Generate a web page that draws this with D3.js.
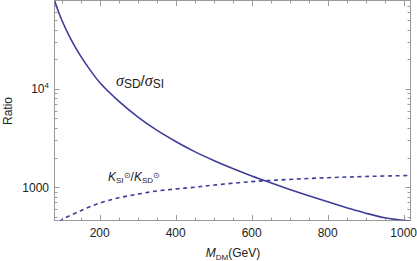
<!DOCTYPE html>
<html>
<head>
<meta charset="utf-8">
<script src="https://cdn.jsdelivr.net/npm/d3@7.9.0/dist/d3.min.js"></script>
<style>
  body { margin: 0; background: #fff; }
  svg { display: block; font-family: "Liberation Sans", Arial, sans-serif; }
</style>
</head>
<body>
<svg id="chart" width="417" height="261"></svg>
<script>
// sigma_SD / sigma_SI (solid)
const massSD = [81, 100, 125, 150, 175, 200, 250, 300, 350, 400, 450, 500, 550, 600, 650, 700, 750, 800, 850, 900, 950, 1018];
const ratioSD = [79000, 50000, 31500, 21500, 15500, 11600, 7500, 5190, 3800, 2920, 2300, 1870, 1550, 1303, 1110, 950, 820, 710, 620, 545, 490, 452];

// K_SI / K_SD (dashed)
const massK = [95, 100, 150, 200, 250, 300, 350, 400, 450, 500, 600, 700, 800, 900, 1018];
const ratioK = [445, 465, 578, 690, 780, 850, 915, 960, 1000, 1050, 1140, 1200, 1250, 1285, 1318];

const xMajor = [200, 400, 600, 800, 1000];
const yMajor = [1000, 10000];

const W = 417, H = 261;
const m = { left: 54.5, right: 6.5, top: 0.5, bottom: 40.5 };
const blue = '#3d3d99';
const frameColor = '#9a9a9a';

const svg = d3.select('#chart');

const x = d3.scaleLinear().domain([81, 1018]).range([m.left, W - m.right]);
const y = d3.scaleLog().domain([459, 79000]).range([H - m.bottom, m.top]);

// minor ticks
const xMinor = d3.range(100, 1001, 50).filter(v => !xMajor.includes(v));
const yMinor = [];
[100, 1000, 10000].forEach(dec => {
  for (let k = 2; k <= 9; k++) {
    const v = dec * k;
    if (v >= y.domain()[0] && v <= y.domain()[1]) yMinor.push(v);
  }
});

const x0 = m.left, x1 = W - m.right, y0 = m.top, y1 = H - m.bottom;

svg.append('clipPath').attr('id', 'clip')
  .append('rect').attr('x', x0).attr('y', y0).attr('width', x1 - x0).attr('height', y1 - y0);

const ticks = svg.append('g').attr('stroke', frameColor).attr('stroke-width', 1);

// bottom & top ticks
xMajor.concat(xMinor).forEach(v => {
  const len = xMajor.includes(v) ? 5.5 : 3;
  const px = Math.round(x(v)) + 0.5;
  ticks.append('line').attr('x1', px).attr('x2', px).attr('y1', y1).attr('y2', y1 - len);
  ticks.append('line').attr('x1', px).attr('x2', px).attr('y1', y0).attr('y2', y0 + len);
});
// left & right ticks
yMajor.concat(yMinor).forEach(v => {
  const len = yMajor.includes(v) ? 5 : 3;
  const py = Math.round(y(v)) + 0.5;
  ticks.append('line').attr('y1', py).attr('y2', py).attr('x1', x0).attr('x2', x0 + len);
  ticks.append('line').attr('y1', py).attr('y2', py).attr('x1', x1).attr('x2', x1 - len);
});

// frame
svg.append('rect')
  .attr('x', x0).attr('y', y0).attr('width', x1 - x0).attr('height', y1 - y0)
  .attr('fill', 'none').attr('stroke', frameColor).attr('stroke-width', 1);

// curves
const line = d3.line().x(d => x(d[0])).y(d => y(d[1])).curve(d3.curveCatmullRom);
const plot = svg.append('g').attr('clip-path', 'url(#clip)');

plot.append('path')
  .datum(d3.zip(massSD, ratioSD))
  .attr('d', line)
  .attr('fill', 'none').attr('stroke', blue).attr('stroke-width', 1.6);

plot.append('path')
  .datum(d3.zip(massK, ratioK))
  .attr('d', line)
  .attr('fill', 'none').attr('stroke', blue).attr('stroke-width', 1.6)
  .attr('stroke-dasharray', '4,3.6');

// tick labels
const lab = svg.append('g').attr('font-size', 12).attr('fill', '#222');
xMajor.forEach(v => {
  lab.append('text').attr('x', x(v)).attr('y', 237)
    .attr('text-anchor', 'middle').text(v);
});
lab.append('text').attr('x', 49).attr('y', y(1000) + 4.5)
  .attr('text-anchor', 'end').text('1000');
const t4 = lab.append('text').attr('x', 49).attr('y', y(10000) + 4.5).attr('text-anchor', 'end');
t4.append('tspan').text('10');
t4.append('tspan').attr('font-size', 8).attr('dy', -5).text('4');

// axis titles
svg.append('text')
  .attr('transform', `translate(12,111) rotate(-90)`)
  .attr('text-anchor', 'middle').attr('font-size', 12).attr('fill', '#222')
  .text('Ratio');

const xt = svg.append('text').attr('x', 233).attr('y', 257)
  .attr('text-anchor', 'middle').attr('font-size', 12).attr('fill', '#222');
xt.append('tspan').attr('font-style', 'italic').text('M');
xt.append('tspan').attr('font-size', 8).attr('dy', 3).text('DM');
xt.append('tspan').attr('dy', -3).text('(GeV)');

// curve labels
const serif = '"Liberation Serif", "DejaVu Serif", serif';
const s = svg.append('text').attr('x', 116).attr('y', 86).attr('font-size', 16).attr('fill', '#222');
s.append('tspan').attr('font-family', serif).attr('font-style', 'italic').text('σ');
s.append('tspan').attr('font-size', 12).attr('dy', 2).text('SD');
s.append('tspan').attr('font-size', 15).attr('dy', -2).text('/');
s.append('tspan').attr('font-family', serif).attr('font-style', 'italic').text('σ');
s.append('tspan').attr('font-size', 12).attr('dy', 2).text('SI');

const k = svg.append('text').attr('x', 108).attr('y', 181).attr('font-size', 12).attr('fill', '#222');
k.append('tspan').attr('font-style', 'italic').text('K');
k.append('tspan').attr('font-size', 8).attr('dy', 2).text('SI');
k.append('tspan').attr('font-size', 8).attr('dy', -5).text('⊙');
k.append('tspan').attr('dy', 3).text('/');
k.append('tspan').attr('font-style', 'italic').text('K');
k.append('tspan').attr('font-size', 8).attr('dy', 2).text('SD');
k.append('tspan').attr('font-size', 8).attr('dy', -5).text('⊙');
</script>
</body>
</html>
